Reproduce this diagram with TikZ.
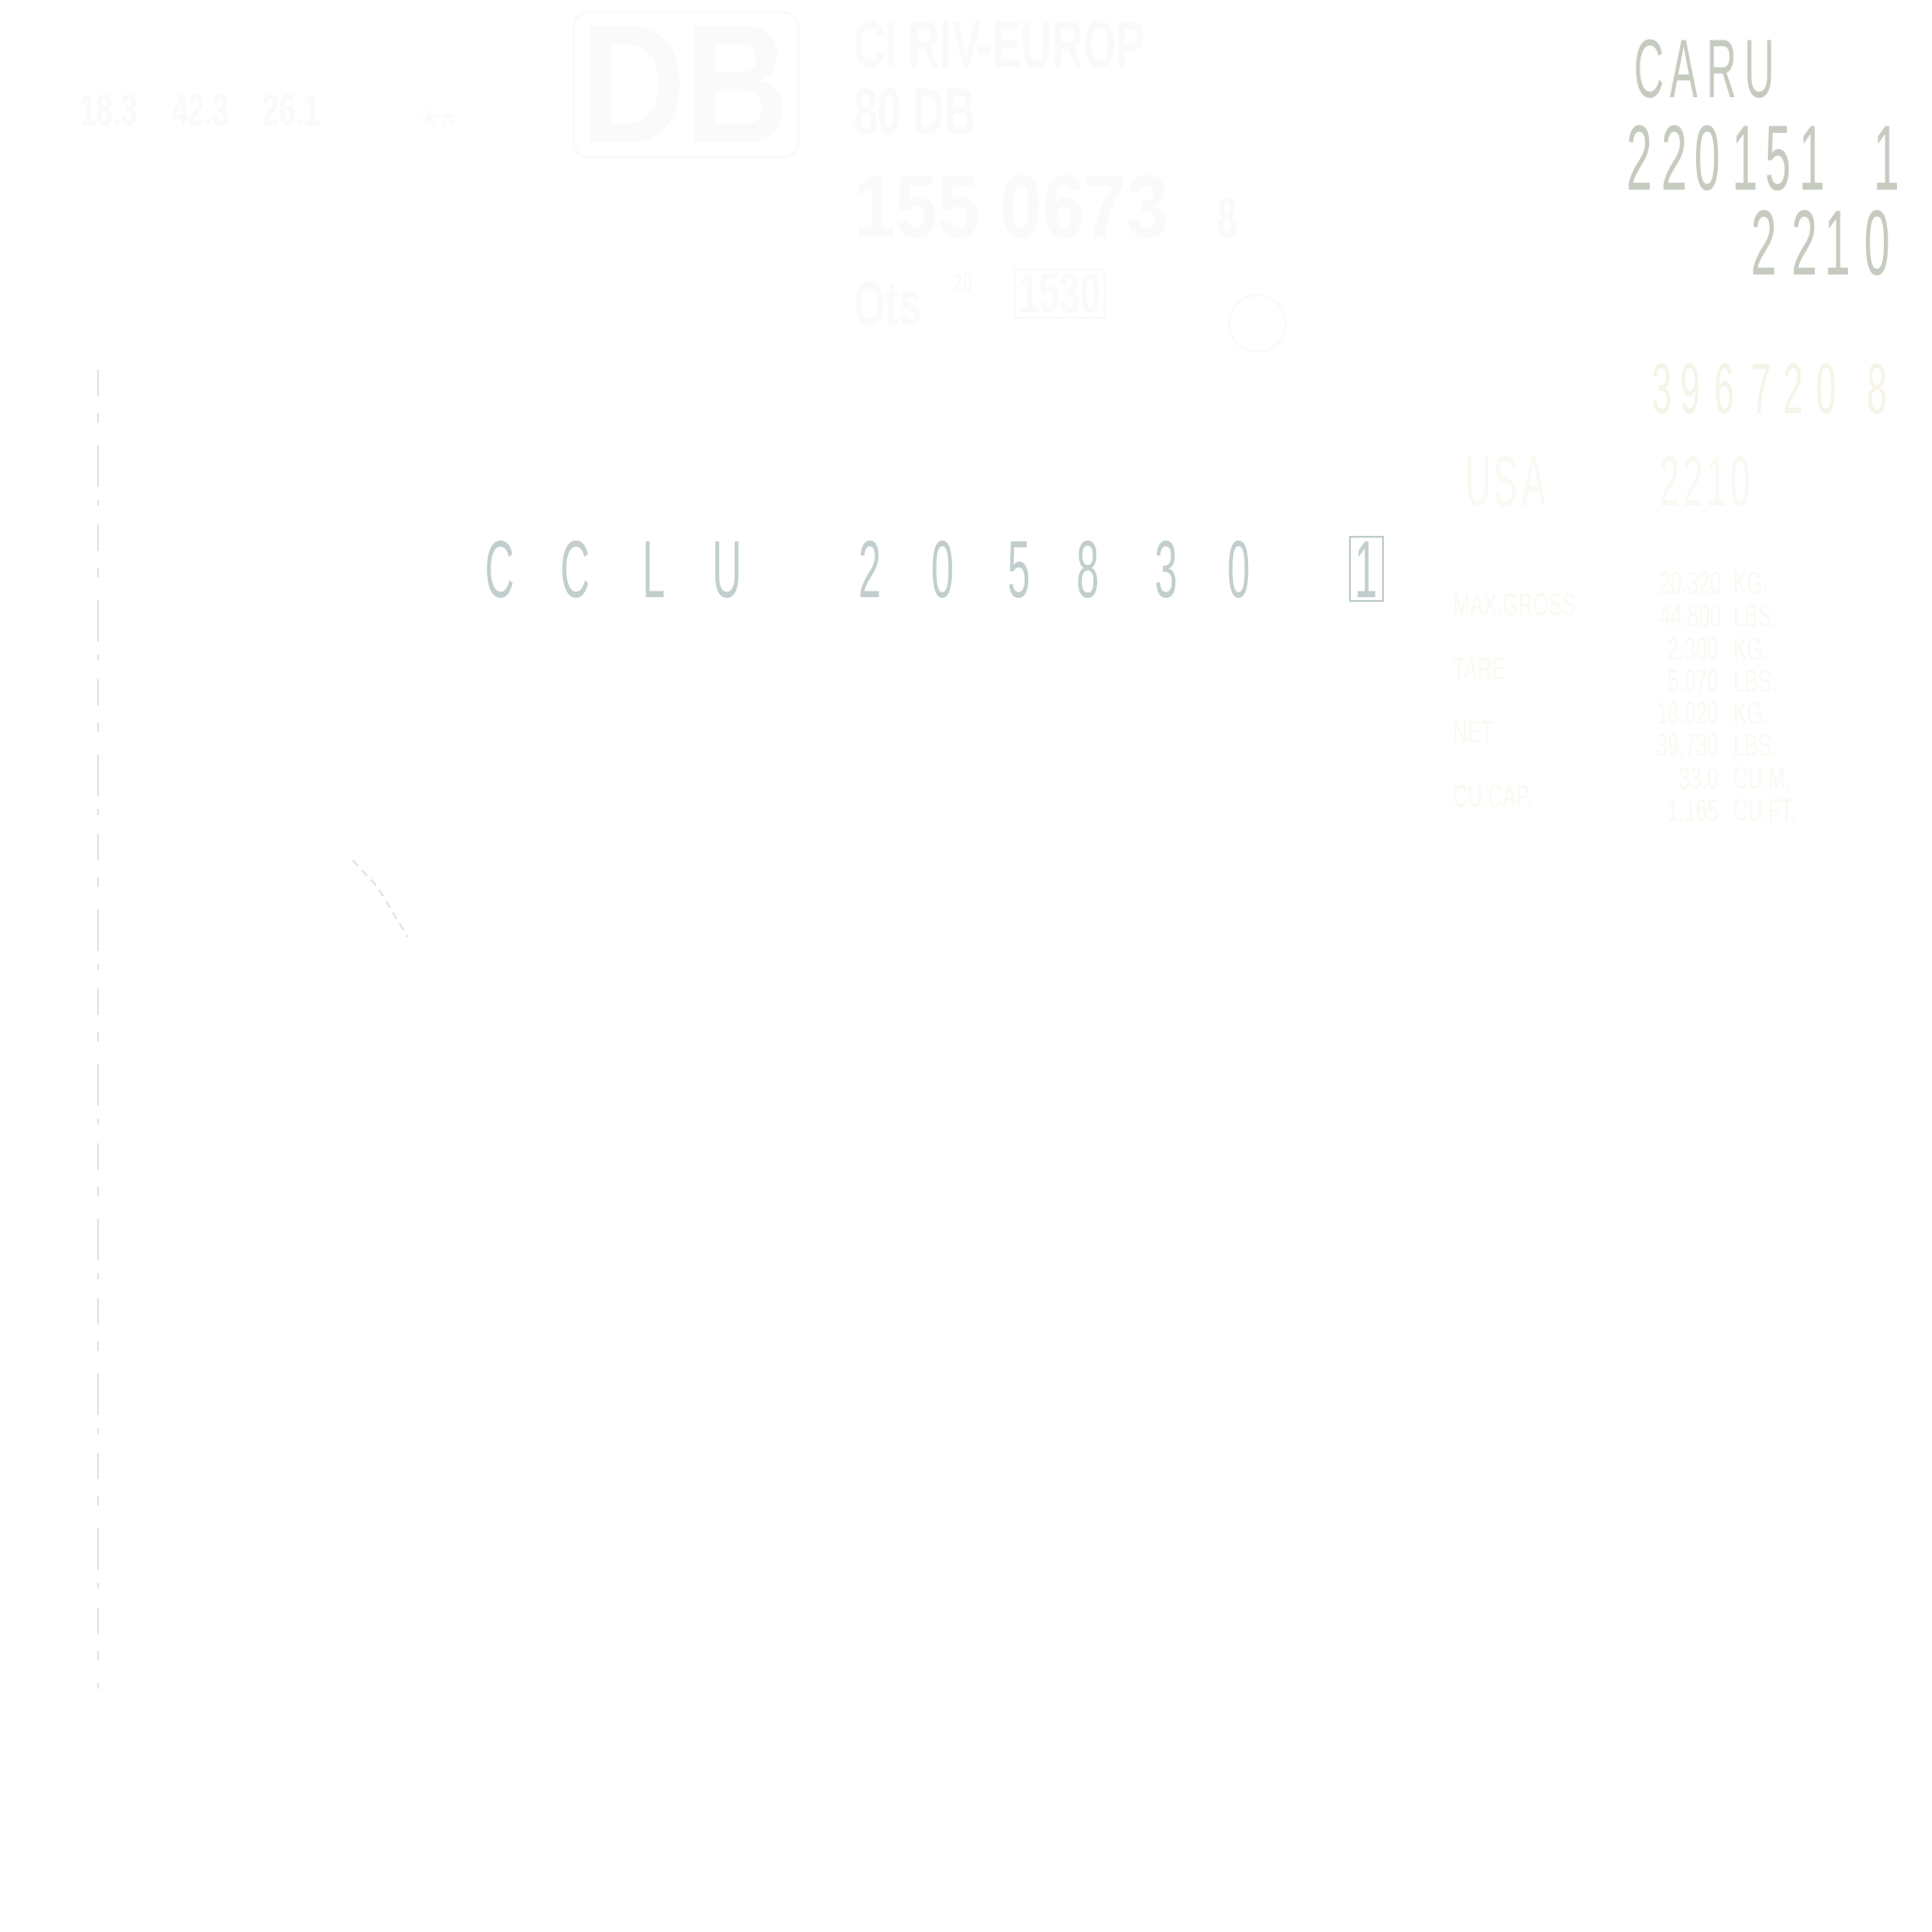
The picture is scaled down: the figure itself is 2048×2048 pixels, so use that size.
\documentclass[tikz,border=0pt]{standalone}
\usepackage{fontspec}
\setmainfont{Liberation Sans}
\newfontfamily\stencil[FakeStretch=0.5]{Liberation Sans}
\newfontfamily\stencilb[FakeStretch=0.65]{Liberation Sans}
\newfontfamily\stencilw[FakeStretch=0.85]{Liberation Sans}
\definecolor{caruc}{RGB}{198,203,192}
\definecolor{ccluc}{RGB}{194,206,206}
\definecolor{faintA}{RGB}{246,244,232}
\definecolor{faintB}{RGB}{250,249,242}
\definecolor{faintC}{RGB}{251,250,250}
\definecolor{dashc}{RGB}{228,228,225}
\tikzset{
  ch/.style={inner sep=0pt, outer sep=0pt, anchor=base},
  caru/.style={ch, text=caruc, font={\stencil\fontsize{44}{44}\selectfont}},
  carunum/.style={ch, text=caruc, font={\stencil\fontsize{49}{49}\selectfont}},
  cclu/.style={ch, text=ccluc, font={\stencil\fontsize{43}{43}\selectfont}},
  old/.style={ch, text=faintA, font={\stencil\fontsize{38}{38}\selectfont}},
  wlabel/.style={inner sep=0pt, anchor=base west, text=faintB, font={\stencilb\fontsize{16.5}{16.5}\selectfont}},
  wnum/.style={inner sep=0pt, anchor=base east, text=faintB, font={\stencilb\fontsize{16.5}{16.5}\selectfont}},
  wunit/.style={inner sep=0pt, anchor=base west, text=faintB, font={\stencilb\fontsize{16.5}{16.5}\selectfont}},
  rail/.style={inner sep=0pt, anchor=base west, text=faintC, font={\stencilb\bfseries\fontsize{35}{35}\selectfont}},
}
\begin{document}
\begin{tikzpicture}[x=0.5pt, y=-0.5pt]
\fill[white] (0,0) rectangle (2048,2048);
\useasboundingbox (0,0) rectangle (2048,2048);

% ---- CARU block (top right) ----
\foreach \x/\c [count=\i] in {1748/C,1785/A,1825/R,1865/U}
  \node[caru] (caru\i) at (\x,104) {\c};
\foreach \x/\c [count=\i] in {1738/2,1775/2,1810/0,1850/1,1885/5,1921/1,2000/1}
  \node[carunum] (carun\i) at (\x,202) {\c};
\foreach \x/\c [count=\i] in {1870/2,1913/2,1948/1,1990/0}
  \node[carunum] (caruc\i) at (\x,292) {\c};

% ---- CCLU block ----
\foreach \x/\c [count=\i] in {530/C,610/C,693/L,771/U,922/2,999/0,1080/5,1153/8,1236/3,1313/0,1448/1}
  \node[cclu] (cclu\i) at (\x,633) {\c};
\node[draw=ccluc, line width=1pt, inner sep=0pt, minimum width=17.5pt, minimum height=34pt] (cclubox) at (1448,603) {};

% ---- faded old number ----
\foreach \x/\c [count=\i] in {1762/3,1792/9,1828/6,1867/7,1901/2,1936/0,1990/8}
  \node[old] (old\i) at (\x,439) {\c};
\foreach \x/\c [count=\i] in {1567/U,1596/S,1626/A}
  \node[old, text=faintB] (usa\i) at (\x,536) {\c};
\foreach \x/\c [count=\i] in {1770/2,1795/2,1820/1,1845/0}
  \node[old, text=faintB] (usb\i) at (\x,536) {\c};

% ---- weight table ----
\node[wlabel] (lgross) at (1540,652) {MAX.GROSS};
\node[wlabel] (ltare)  at (1540,720) {TARE};
\node[wlabel] (lnet)   at (1540,787) {NET};
\node[wlabel] (lcap)   at (1540,855) {CU.CAP.};
\node[wnum] (n1) at (1825,629) {20.320};  \node[wunit] (u1) at (1837,629) {KG.};
\node[wnum] (n2) at (1825,664) {44.800};  \node[wunit] (u2) at (1837,664) {LBS.};
\node[wnum] (n3) at (1822,699) {2.300};   \node[wunit] (u3) at (1837,699) {KG.};
\node[wnum] (n4) at (1822,733) {5.070};   \node[wunit] (u4) at (1837,733) {LBS.};
\node[wnum] (n5) at (1822,767) {18.020};  \node[wunit] (u5) at (1837,767) {KG.};
\node[wnum] (n6) at (1822,801) {39.730};  \node[wunit] (u6) at (1837,801) {LBS.};
\node[wnum] (n7) at (1822,836) {33.0};    \node[wunit] (u7) at (1837,836) {CU.M.};
\node[wnum] (n8) at (1822,870) {1.165};   \node[wunit] (u8) at (1837,870) {CU.FT.};

% ---- faint rail markings (top) ----
\node[rail] (riv) at (905,72) {CI RIV-EUROP};
\node[rail] (db80) at (905,143) {80 DB};
\node[rail, font={\stencilw\bfseries\fontsize{47}{47}\selectfont}] (railno) at (905,252) {155 0673};
\node[rail, font={\stencilb\bfseries\fontsize{30}{30}\selectfont}] (railck) at (1290,252) {8};
\node[rail, font={\stencilb\bfseries\fontsize{33}{33}\selectfont}] (ots) at (905,345) {Ots};
\node[rail, font={\stencilb\bfseries\fontsize{14}{14}\selectfont}] (ots20) at (1010,310) {20};
\node[rail, font={\stencilb\bfseries\fontsize{30}{30}\selectfont}, draw=faintC, line width=1pt, inner sep=2pt] (iso) at (1075,332) {1530};
\draw[faintC, line width=1pt] (1333,343) circle (30);
\node[draw=faintC, line width=1.5pt, rounded corners=8pt, minimum width=119pt, minimum height=77pt, inner sep=0pt,
      text=faintC, font={\stencilw\bfseries\fontsize{90}{90}\selectfont}] (dblogo) at (727,90) {DB};

% ---- faint top-left markings ----
\node[rail, font={\stencilb\bfseries\fontsize{24}{24}\selectfont}] (dims) at (85,134) {18.3\hspace{18pt}42.3\hspace{18pt}26.1};
\node[inner sep=0pt, text=faintC, font={\fontsize{22}{22}\selectfont}] (stars) at (465,125) {$\star\star$};

% ---- left edge dashed line ----
\coordinate (lt) at (104,392);
\coordinate (lb) at (104,1790);
\draw[dashc, line width=0.9pt, dash pattern=on 14pt off 9pt on 5pt off 12pt on 22pt off 7pt on 3pt off 10pt] (lt) -- (lb);

% ---- faint scratch marks ----
\coordinate (s1) at (374,912);
\coordinate (s2) at (400,940);
\coordinate (s3) at (432,993);
\draw[dashc, line width=1pt, dash pattern=on 4pt off 3pt] (s1) -- (s2) -- (s3);
\end{tikzpicture}
\end{document}
